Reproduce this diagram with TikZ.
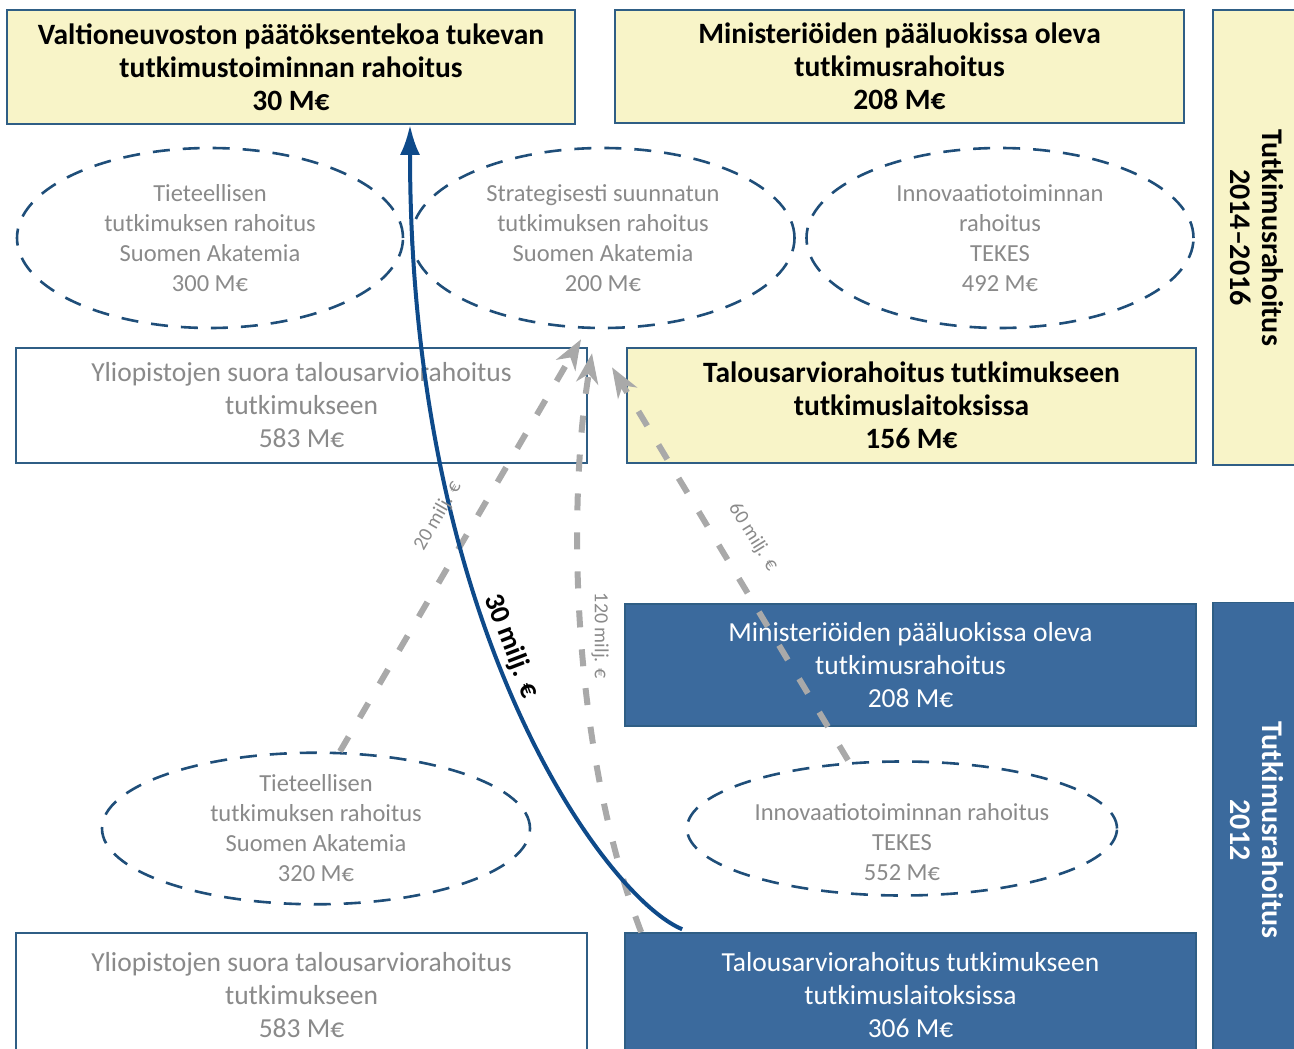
\documentclass[tikz,border=0pt]{standalone}
\usepackage{fontspec}
\setmainfont{Carlito}
\usetikzlibrary{shapes.geometric,arrows.meta,calc}
\definecolor{boxyellow}{HTML}{F8F4C8}
\definecolor{boxborder}{HTML}{2F5E85}
\definecolor{boxblue}{HTML}{3B6A9D}
\definecolor{ellblue}{HTML}{1F4E79}
\definecolor{arrgray}{HTML}{A9A9A9}
\definecolor{arrblue}{HTML}{0E4A8A}
\definecolor{txtgray}{HTML}{8A8A8A}
\begin{document}
\begin{tikzpicture}[x=1pt,y=1pt,
  basebox/.style={rectangle, draw=boxborder, line width=1.6pt, inner sep=0pt, align=center},
  ybox/.style={basebox, fill=boxyellow, font=\fontsize{29.5}{33}\selectfont\bfseries, text=black},
  wbox/.style={basebox, fill=white, font=\fontsize{27.5}{33}\selectfont, text=txtgray},
  bbox/.style={basebox, fill=boxblue, font=\fontsize{27.5}{33}\selectfont, text=white},
  sidey/.style={ybox, rotate=-90, font=\fontsize{30}{32}\selectfont\bfseries},
  sideb/.style={bbox, rotate=-90, font=\fontsize{30}{32}\selectfont\bfseries},
  ell/.style={ellipse, draw=ellblue, line width=2.6pt, dash pattern=on 17pt off 13pt, inner sep=0pt, align=center, font=\fontsize{24.5}{30}\selectfont, text=txtgray},
  ltxt/.style={align=center, font=\fontsize{24.5}{30}\selectfont, text=txtgray, inner sep=0pt},
  grayarrow/.style={draw=arrgray, line width=6pt, dash pattern=on 17pt off 22pt, -{Stealth[length=30pt,width=22pt,inset=9pt]}},
  bluearrow/.style={draw=arrblue, line width=4pt, -{Latex[length=30pt,width=20pt]}},
  glabel/.style={text=txtgray, font=\fontsize{20}{22}\selectfont, inner sep=1pt},
  blabel/.style={text=black, font=\fontsize{28}{30}\selectfont\bfseries, inner sep=1pt}
]
\useasboundingbox (0,0) rectangle (1294,-1049);

% top row (2014-2016)
\node[ybox, minimum width=568pt, minimum height=114pt] (A) at (291,-67)
  {Valtioneuvoston päätöksentekoa tukevan\\tutkimustoiminnan rahoitus\\30 M€};
\node[ybox, minimum width=569pt, minimum height=113pt] (B) at (899.5,-66.5)
  {Ministeriöiden pääluokissa oleva\\tutkimusrahoitus\\208 M€};
\node[sidey, minimum width=455pt, minimum height=87pt] (S1) at (1256.5,-237.5)
  {Tutkimusrahoitus\\2014–2016};

\node[ell, minimum width=386pt, minimum height=180pt] (E1) at (210,-238)
  {Tieteellisen\\tutkimuksen rahoitus\\Suomen Akatemia\\300 M€};
\node[ell, minimum width=383pt, minimum height=180pt] (E2) at (603,-238)
  {Strategisesti suunnatun\\tutkimuksen rahoitus\\Suomen Akatemia\\200 M€};
\node[ell, minimum width=387pt, minimum height=180pt] (E3) at (1000,-238)
  {Innovaatiotoiminnan\\rahoitus\\TEKES\\492 M€};

\node[wbox, minimum width=571pt, minimum height=115pt] (C) at (301.5,-405.5)
  {Yliopistojen suora talousarviorahoitus\\tutkimukseen\\583 M€};
\node[ybox, minimum width=569pt, minimum height=115pt] (D) at (911.5,-405.5)
  {Talousarviorahoitus tutkimukseen\\tutkimuslaitoksissa\\156 M€};

% bottom part (2012)
\node[bbox, minimum width=571pt, minimum height=122pt] (E) at (910.5,-665)
  {Ministeriöiden pääluokissa oleva\\tutkimusrahoitus\\208 M€};
\node[sideb, minimum width=455pt, minimum height=87pt] (S2) at (1256.5,-830)
  {Tutkimusrahoitus\\2012};

\node[ell, minimum width=428pt, minimum height=134pt] (E4) at (316,-828.5)
  {Tieteellisen\\tutkimuksen rahoitus\\Suomen Akatemia\\320 M€};
\node[ell, minimum width=430pt, minimum height=134pt] (E5) at (902,-828.5) {};
\node[ltxt] (E5t) at (902,-842)
  {Innovaatiotoiminnan rahoitus\\TEKES\\552 M€};

\node[wbox, minimum width=571pt, minimum height=124pt] (F) at (301.5,-995)
  {Yliopistojen suora talousarviorahoitus\\tutkimukseen\\583 M€};
\node[bbox, minimum width=571pt, minimum height=124pt] (G) at (910.5,-995)
  {Talousarviorahoitus tutkimukseen\\tutkimuslaitoksissa\\306 M€};

% connector end points
\coordinate (bs) at ($(G.north west)+(58,3)$);
\coordinate (be) at ($(A.south)+(119,0)$);
\coordinate (g1s) at ($(E4.north)+(24,0)$);
\coordinate (g1e) at ($(E2.south)+(-22,-10)$);
\coordinate (g2s) at ($(G.north west)+(17,0)$);
\coordinate (g2e) at ($(E2.south)+(-11,-24)$);
\coordinate (g3s) at ($(E5.north)+(-54,0)$);
\coordinate (g3e) at ($(E2.south)+(9,-38)$);

% gray dashed flows
\draw[grayarrow] (g1s) -- (g1e);
\draw[grayarrow] (g2s) .. controls (575,-760) and (565,-520) .. (g2e);
\draw[grayarrow] (g3s) -- (g3e);

% blue flow
\draw[bluearrow] (bs) .. controls (610,-900) and (410,-640) .. (be);

% flow labels
\node[glabel, rotate=60] (L20) at (438,-516) {20 milj. €};
\node[glabel, rotate=-90] (L120) at (600,-636) {120 milj. €};
\node[glabel, rotate=-58] (L60) at (753,-537) {60 milj. €};
\node[blabel, rotate=-69] (L30) at (511,-646) {30 milj. €};
\end{tikzpicture}
\end{document}
